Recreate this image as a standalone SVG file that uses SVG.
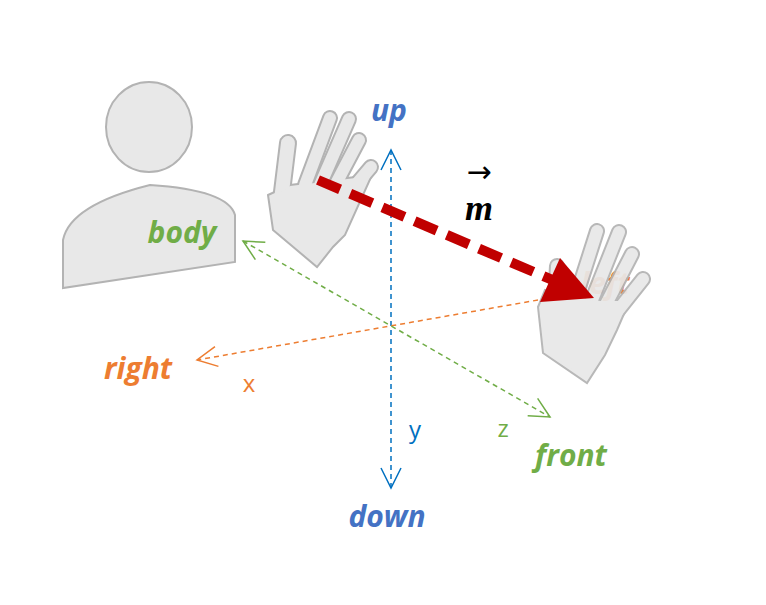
<svg xmlns="http://www.w3.org/2000/svg" width="766" height="605" viewBox="0 0 766 605">
<defs>
<style>
.lbl{font-family:"Open Sans","DejaVu Sans",sans-serif;font-weight:bold;font-style:italic;font-size:30px;text-anchor:middle}
.ax{font-family:"Open Sans","DejaVu Sans",sans-serif;font-size:24px;text-anchor:middle}
.shape{fill:#e8e8e8;stroke:#b3b3b3;stroke-width:2}
.fo{stroke:#b3b3b3;stroke-linecap:round;fill:none}
.fi{stroke:#e8e8e8;stroke-linecap:round;fill:none}
</style>
<marker id="open" viewBox="0 0 12 12" refX="11" refY="6" markerWidth="12" markerHeight="12" markerUnits="userSpaceOnUse" orient="auto-start-reverse"><path d="M1,1 L11,6 L1,11" fill="none" stroke="context-stroke" stroke-width="1.2"/></marker>
<marker id="ob" viewBox="0 0 24 24" refX="22" refY="12" markerWidth="24" markerHeight="24" markerUnits="userSpaceOnUse" orient="auto-start-reverse"><path d="M2,2 L22,12 L2,22" fill="none" stroke="#0070c0" stroke-width="1.5"/></marker>
<marker id="oo" viewBox="0 0 24 24" refX="22" refY="12" markerWidth="24" markerHeight="24" markerUnits="userSpaceOnUse" orient="auto-start-reverse"><path d="M2,2 L22,12 L2,22" fill="none" stroke="#ed7d31" stroke-width="1.5"/></marker>
<marker id="og" viewBox="0 0 24 24" refX="22" refY="12" markerWidth="24" markerHeight="24" markerUnits="userSpaceOnUse" orient="auto-start-reverse"><path d="M2,2 L22,12 L2,22" fill="none" stroke="#70ad47" stroke-width="1.5"/></marker>
</defs>
<rect width="766" height="605" fill="#fff"/>
<g id="body">
<ellipse class="shape" cx="149" cy="127" rx="43" ry="45"/>
<path class="shape" d="M63,288 L63,240 Q70,205 150,185 Q228,190 235,215 L235,262 Z"/>
</g>
<g id="connectors">
<line x1="391" y1="150" x2="391" y2="488" stroke="#0070c0" stroke-width="1.5" stroke-dasharray="5,4" marker-start="url(#ob)" marker-end="url(#ob)"/>
<line x1="538" y1="300" x2="197" y2="360" stroke="#ed7d31" stroke-width="1.5" stroke-dasharray="5,4" marker-end="url(#oo)"/>
<line x1="243" y1="241" x2="550" y2="417" stroke="#70ad47" stroke-width="1.5" stroke-dasharray="5,4" marker-start="url(#og)" marker-end="url(#og)"/>
</g>
<text class="lbl" x="605" y="294" fill="#ed7d31">left</text>
<g id="hand-left">
<g class="fo" stroke-width="18"><line x1="281" y1="200" x2="288" y2="143"/></g>
<g class="fo" stroke-width="16"><line x1="305" y1="185" x2="330" y2="118"/><line x1="318" y1="190" x2="349" y2="119"/><line x1="330" y1="195" x2="359" y2="140"/><line x1="343" y1="200" x2="371" y2="167"/></g>
<path class="shape" d="M268,195 L290,185 L372,175 L345,235 L333,247 L317,267 L273,230 Z"/>
<g class="fi" stroke-width="14"><line x1="281" y1="200" x2="288" y2="143"/></g>
<g class="fi" stroke-width="12"><line x1="305" y1="185" x2="330" y2="118"/><line x1="318" y1="190" x2="349" y2="119"/><line x1="330" y1="195" x2="359" y2="140"/><line x1="343" y1="200" x2="371" y2="167"/></g>
<path d="M270,197 L290,188 L368,180 L343,233 L331,245 L317,263 L276,229 Z" fill="#e8e8e8"/>
</g>
<g id="hand-right" opacity="0.93">
<g class="fo" stroke-width="16"><line x1="555" y1="300" x2="557" y2="266"/><line x1="575" y1="300" x2="597" y2="231"/><line x1="590" y1="305" x2="619" y2="232"/><line x1="602" y1="312" x2="632" y2="254"/><line x1="612" y1="318" x2="643" y2="279"/></g>
<path class="shape" d="M545,290 L600,300 L630,300 L617,330 L605,355 L587,383 L543,353 L538,307 Z"/>
<g class="fi" stroke-width="12"><line x1="555" y1="300" x2="557" y2="266"/><line x1="575" y1="300" x2="597" y2="231"/><line x1="590" y1="305" x2="619" y2="232"/><line x1="602" y1="312" x2="632" y2="254"/><line x1="612" y1="318" x2="643" y2="279"/></g>
<path d="M547,292 L600,302 L626,302 L615,330 L603,353 L587,379 L546,351 L541,307 Z" fill="#e8e8e8"/>
</g>
<g id="motion">
<line x1="318" y1="180" x2="555" y2="281" stroke="#c00000" stroke-width="10" stroke-dasharray="24,11"/>
<path d="M594,298 L540,302 L560,258 Z" fill="#c00000"/>
</g>
<g id="labels">
<text class="lbl" x="389" y="121" fill="#4472c4">up</text>
<text class="lbl" x="182" y="243" fill="#70ad47">body</text>
<text class="lbl" x="138" y="379" fill="#ed7d31">right</text>
<text class="lbl" x="571" y="466" fill="#70ad47">front</text>
<text class="lbl" x="387" y="527" fill="#4472c4">down</text>
<text class="ax" x="249" y="392" fill="#ed7d31">x</text>
<text class="ax" x="415" y="438" fill="#0070c0">y</text>
<text class="ax" x="503" y="437" fill="#70ad47">z</text>
<text x="479" y="182" font-family="DejaVu Sans,sans-serif" font-size="30" text-anchor="middle" fill="#000">→</text>
<text x="479" y="220" font-family="Liberation Serif,serif" font-weight="bold" font-style="italic" font-size="36" text-anchor="middle" fill="#000">m</text>
</g>
</svg>
